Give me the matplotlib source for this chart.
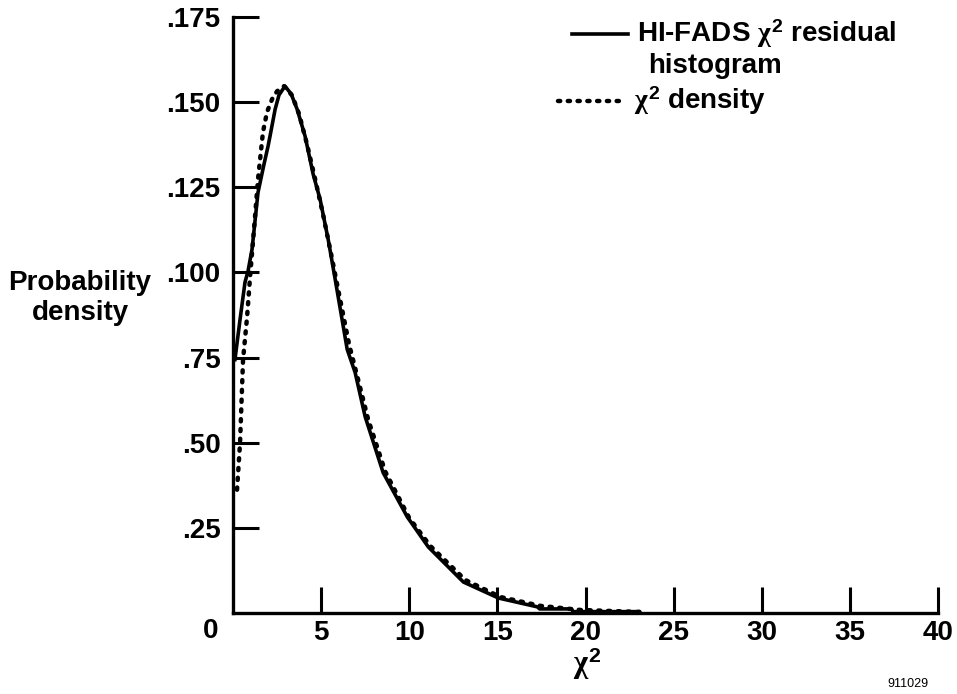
import matplotlib
matplotlib.use('Agg')
import matplotlib.pyplot as plt
from matplotlib.ticker import FixedLocator, FixedFormatter

plt.rcParams['font.family'] = ['Liberation Sans', 'DejaVu Sans']
plt.rcParams['font.weight'] = 'bold'
plt.rcParams['mathtext.fontset'] = 'custom'
plt.rcParams['mathtext.rm'] = 'Liberation Sans:bold'
plt.rcParams['mathtext.it'] = 'Liberation Serif'
plt.rcParams['mathtext.bf'] = 'Liberation Sans:bold'

#%%
# values
hist_x = [0.11, 0.40, 0.68, 0.85, 1.08, 1.42, 1.76, 1.99, 2.10, 2.39, 2.61, 2.95,
          3.30, 3.64, 4.09, 4.55, 4.94, 5.40, 5.80, 6.48, 6.93, 7.50, 8.52, 9.89,
          11.08, 13.07, 15.06, 17.27, 17.4, 19.2, 19.3, 23.0]
hist_y = [0.0744, 0.0862, 0.0971, 0.1003, 0.1068, 0.1235, 0.1318, 0.1371, 0.1400,
          0.1479, 0.1521, 0.1547, 0.1524, 0.1479, 0.1400, 0.1288, 0.1215, 0.1097,
          0.0979, 0.0774, 0.0706, 0.0576, 0.0412, 0.0282, 0.0194, 0.0091, 0.0044,
          0.0018, 0.0012, 0.0012, 0.0004, 0.0004]

dens_x = [0.23, 0.40, 0.57, 0.80, 0.97, 1.19, 1.42, 1.70, 1.93, 2.22, 2.50, 2.90,
          3.35, 3.75, 4.20, 4.66, 5.11, 5.57, 6.08, 6.59, 7.10, 7.67, 8.64, 10.0,
          11.19, 13.18, 15.17, 17.44, 19.7, 23.1]
dens_y = [0.0362, 0.0500, 0.0744, 0.0870, 0.0988, 0.1126, 0.1274, 0.1412, 0.1471,
          0.1509, 0.1532, 0.1547, 0.1520, 0.1465, 0.1376, 0.1274, 0.1170, 0.1053,
          0.0920, 0.0788, 0.0685, 0.0568, 0.0415, 0.0279, 0.0197, 0.0097, 0.0047,
          0.0021, 0.0009, 0.0003]

x_ticks = [5, 10, 15, 20, 25, 30, 35, 40]
x_labels = ['5', '10', '15', '20', '25', '30', '35', '40']
y_ticks = [0.025, 0.050, 0.075, 0.100, 0.125, 0.150, 0.175]
y_labels = ['.25', '.50', '.75', '.100', '.125', '.150', '.175']

dots = (0, (0.5, 1.7))

#%%
fig = plt.figure(figsize=(9.57, 6.94), dpi=100)
ax = fig.add_axes([233/957, 1 - 613/694, 705/957, 596/694])

ax.plot(hist_x, hist_y, color='k', lw=2.6, solid_joinstyle='round')
ax.plot(dens_x, dens_y, color='k', lw=3.2, linestyle=dots, dash_capstyle='round')

ax.set_xlim(0, 40)
ax.set_ylim(0, 0.175)
ax.spines['top'].set_visible(False)
ax.spines['right'].set_visible(False)
ax.spines['left'].set_linewidth(2.4)
ax.spines['bottom'].set_linewidth(2.4)

ax.xaxis.set_major_locator(FixedLocator(x_ticks))
ax.xaxis.set_major_formatter(FixedFormatter(x_labels))
ax.yaxis.set_major_locator(FixedLocator(y_ticks))
ax.yaxis.set_major_formatter(FixedFormatter(y_labels))
ax.tick_params(direction='in', length=19, width=2.2, labelsize=20, pad=9)
ax.tick_params(axis='x', pad=5)

fig.text(211/957, 1 - 631/694, '0', ha='center', va='center', fontsize=20)
fig.text(587/957, 1 - 664/694, r'$\chi^2$', ha='center', va='center', fontsize=22)
fig.text(80/957, 1 - 298/694, 'Probability\ndensity', ha='center', va='center',
         fontsize=20, linespacing=1.2)
fig.text(908/957, 1 - 684/694, '911029', ha='center', va='center',
         fontsize=9, fontweight='normal')

# legend drawn by hand
ax.plot([572/957, 628/957], [1 - 34/694, 1 - 34/694], transform=fig.transFigure,
        color='k', lw=2.6, clip_on=False)
fig.text(637/957, 1 - 34/694, r'HI-FADS $\chi^2$ residual', ha='left', va='center',
         fontsize=20)
fig.text(715/957, 1 - 66/694, 'histogram', ha='center', va='center', fontsize=20)
ax.plot([558/957, 626/957], [1 - 101/694, 1 - 101/694], transform=fig.transFigure,
        color='k', lw=3.2, linestyle=dots, dash_capstyle='round', clip_on=False)
fig.text(634/957, 1 - 101/694, r'$\chi^2$ density', ha='left', va='center',
         fontsize=20)

fig.savefig('out.png', dpi=100)
